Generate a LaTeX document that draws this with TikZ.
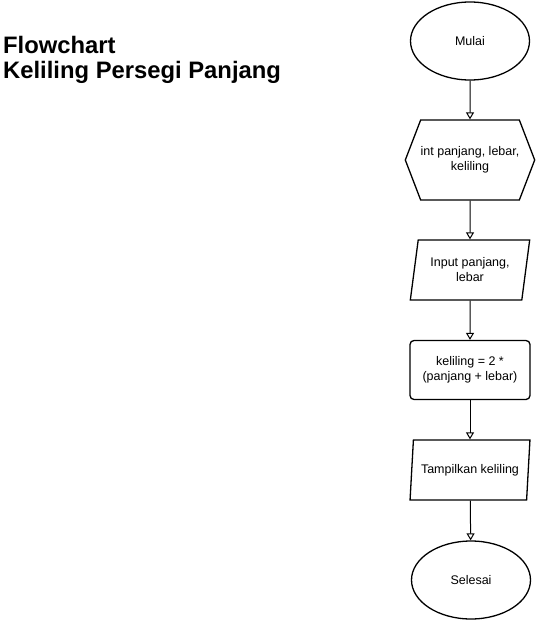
\documentclass[tikz,border=0pt]{standalone}
\usepackage{fontspec}
\setmainfont{Liberation Sans}
\usetikzlibrary{arrows.meta,shapes.geometric,shapes.symbols}

\begin{document}
\begin{tikzpicture}[x=1pt,y=-1pt]
        \tikzset{terminal/.style = {shape=ellipse,draw,line width=1.3pt,minimum width=119pt,minimum height=78pt,inner sep=0pt},
                 declare/.style = {shape=signal,signal to=west and east,signal pointer angle=138,draw,line width=1.3pt,minimum width=121pt,minimum height=80pt,inner sep=0pt,align=center},
                 inout/.style = {shape=trapezium,trapezium left angle=76,trapezium right angle=104,trapezium stretches=true,draw,line width=1.3pt,minimum width=120pt,minimum height=60pt,inner sep=0pt,align=center},
                 process/.style = {shape=rectangle,rounded corners=4pt,draw,line width=1.3pt,minimum width=120pt,minimum height=59pt,align=center},
                 flow/.style = {-{Triangle[open,length=7pt,width=8pt]},line width=1pt}};
        \useasboundingbox (0,0) rectangle (541,621);
        \node[anchor=north west,align=left,inner sep=0pt,font=\bfseries\fontsize{23.8}{25}\selectfont] (title) at (3,36) {Flowchart\\Keliling Persegi Panjang};
        \node[terminal,font=\fontsize{12.5}{15}\selectfont] (start) at (470,41) {Mulai};
        \node[declare,font=\fontsize{12.5}{15}\selectfont] (var) at (470,160) {int panjang, lebar,\\keliling};
        \node[inout,font=\fontsize{12.5}{15}\selectfont] (input) at (470,270) {Input panjang,\\lebar};
        \node[process,font=\fontsize{12.5}{15}\selectfont] (calc) at (470,370) {keliling = 2 *\\(panjang + lebar)};
        \node[inout,font=\fontsize{12.5}{15}\selectfont] (output) at (470,470) {Tampilkan keliling};
        \node[terminal,font=\fontsize{12.5}{15}\selectfont] (stop) at (471,580) {Selesai};
        \draw[flow] (start) to (var);
        \draw[flow] (var) to (input);
        \draw[flow] (input) to (calc);
        \draw[flow] (calc) to (output);
        \draw[flow] (output) to (stop);
    \end{tikzpicture}
\end{document}
